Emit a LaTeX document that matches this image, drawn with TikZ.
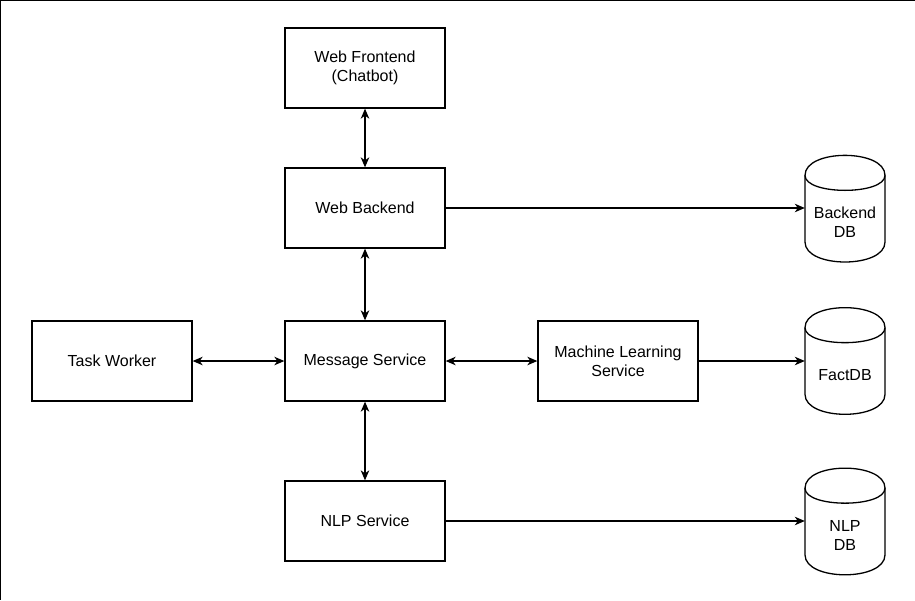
\documentclass[tikz,border=0pt]{standalone}
\usepackage{fontspec}
\setmainfont{Liberation Sans}
\usetikzlibrary{arrows.meta}
\newcommand\cylshape[2]{%
  \draw[cylline] (#1,#2+20) .. controls (#1,#2-6.667) and (#1+80,#2-6.667) .. (#1+80,#2+20)
    -- (#1+80,#2+86.7) .. controls (#1+80,#2+113.3) and (#1,#2+113.3) .. (#1,#2+86.7) -- cycle;
  \draw[cylline] (#1,#2+20) .. controls (#1,#2+40) and (#1+80,#2+40) .. (#1+80,#2+20);}
\begin{document}
\begin{tikzpicture}[x=1pt,y=-1pt,
  box/.style={draw, line width=1.3pt, minimum width=160pt, minimum height=80pt, inner sep=0pt,
    align=center, font=\fontsize{16}{19}\selectfont},
  cylnode/.style={minimum width=80pt, minimum height=106.7pt, inner sep=0pt},
  cyltext/.style={align=center, font=\fontsize{16}{19}\selectfont, inner sep=0pt},
  cylline/.style={line width=1.3pt},
  conn/.style={line width=1.3pt, -{Stealth[length=10pt,width=8.5pt,inset=3pt]}},
  biconn/.style={line width=1.3pt, {Stealth[length=10pt,width=8.5pt,inset=3pt]}-{Stealth[length=10pt,width=8.5pt,inset=3pt]}}]
\useasboundingbox (0,0) rectangle (915,600);
\draw[line width=2pt] (0,600) -- (0,0);
\draw[line width=1.2pt] (0,0) -- (915,0);

\node[box] (wf) at (365,68) {Web Frontend\\(Chatbot)};
\node[box] (wb) at (365,208) {Web Backend};
\node[box] (ms) at (365,361) {Message Service};
\node[box] (tw) at (112,361) {Task Worker};
\node[box] (ml) at (618,361) {Machine Learning\\Service};
\node[box] (nlp) at (365,521) {NLP Service};

\node[cylnode] (bdb) at (845,208.7) {};
\cylshape{805}{155.35}
\node[cyltext] (bdbt) at (845,222.5) {Backend\\DB};
\node[cylnode] (fdb) at (845,361) {};
\cylshape{805}{307.65}
\node[cyltext] (fdbt) at (845,375.5) {FactDB};
\node[cylnode] (ndb) at (845,521.5) {};
\cylshape{805}{468.15}
\node[cyltext] (ndbt) at (845,535.5) {NLP\\DB};

\draw[biconn] (wf) -- (wb);
\draw[biconn] (wb) -- (ms);
\draw[biconn] (tw) -- (ms);
\draw[biconn] (ms) -- (ml);
\draw[biconn] (ms) -- (nlp);
\draw[conn] (wb.east) -- (bdb.west |- wb.east);
\draw[conn] (ml.east) -- (fdb.west |- ml.east);
\draw[conn] (nlp.east) -- (ndb.west |- nlp.east);
\end{tikzpicture}
\end{document}
